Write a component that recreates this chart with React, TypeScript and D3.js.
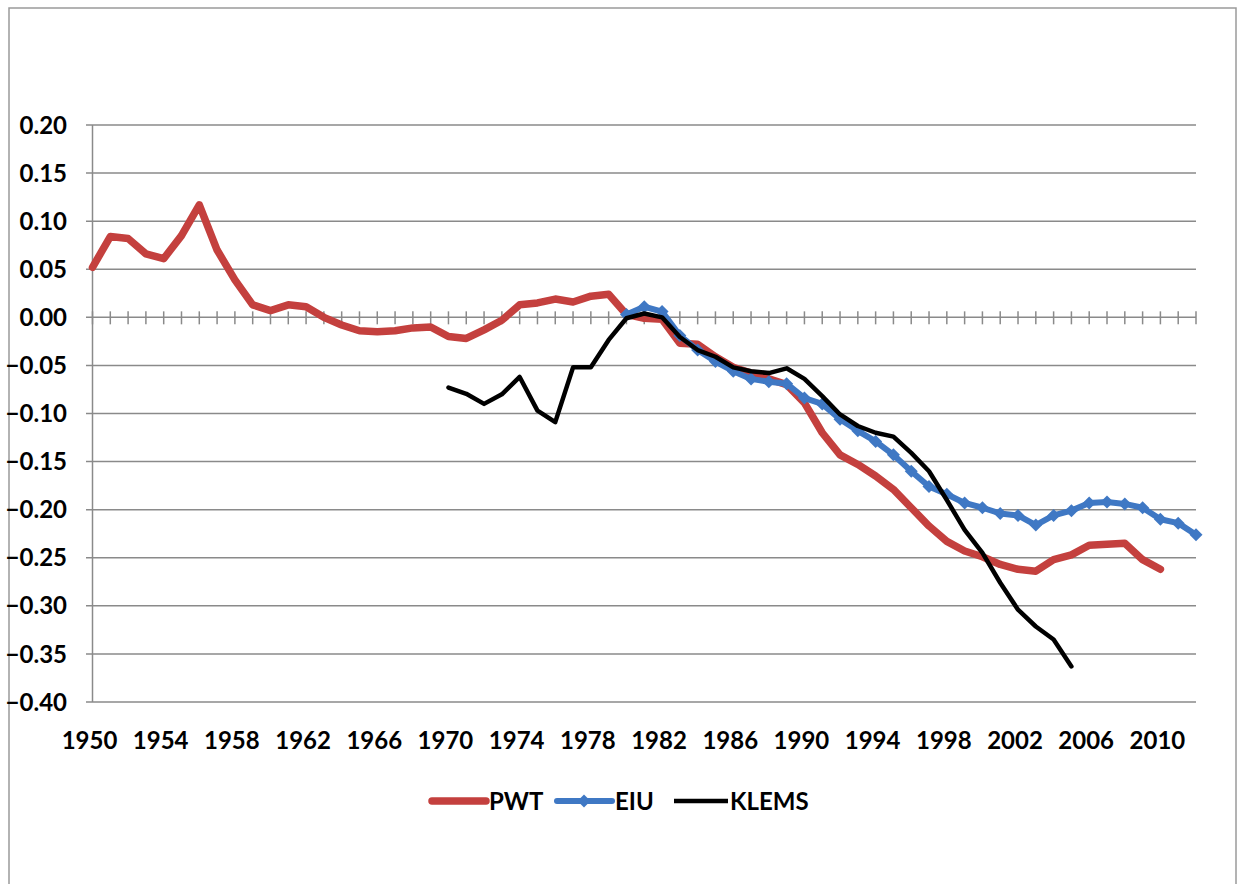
import React from "react";
import * as d3 from "d3";

const years: number[] = d3.range(1950, 2013);
const yTicks: number[] = [0.2, 0.15, 0.1, 0.05, 0, -0.05, -0.1, -0.15, -0.2, -0.25, -0.3, -0.35, -0.4];
const xLabelYears: number[] = d3.range(1950, 2011, 4);

const pwtStart = 1950;
const pwtValues: number[] = [
  0.052, 0.084, 0.082, 0.066, 0.061, 0.085, 0.117, 0.070, 0.039, 0.013,
  0.007, 0.013, 0.011, 0.000, -0.008, -0.014, -0.015, -0.014, -0.011, -0.010,
  -0.020, -0.022, -0.013, -0.003, 0.013, 0.015, 0.019, 0.016, 0.022, 0.024,
  0.003, -0.001, -0.002, -0.027, -0.028, -0.041, -0.052, -0.058, -0.064, -0.070,
  -0.089, -0.120, -0.143, -0.153, -0.165, -0.179, -0.198, -0.217, -0.233, -0.243,
  -0.249, -0.257, -0.262, -0.264, -0.252, -0.247, -0.237, -0.236, -0.235, -0.252,
  -0.262,
];

const eiuStart = 1980;
const eiuValues: number[] = [
  0.003, 0.011, 0.006, -0.019, -0.034, -0.046, -0.056, -0.064, -0.067, -0.069,
  -0.084, -0.090, -0.106, -0.118, -0.129, -0.143, -0.160, -0.176, -0.184, -0.193,
  -0.198, -0.204, -0.206, -0.216, -0.206, -0.201, -0.193, -0.192, -0.194, -0.198,
  -0.210, -0.214, -0.226,
];

const klemsStart = 1970;
const klemsValues: number[] = [
  -0.073, -0.0795, -0.090, -0.080, -0.062, -0.097, -0.109, -0.052, -0.052, -0.0235,
  -0.001, 0.004, 0.000, -0.0205, -0.034, -0.041, -0.052, -0.056, -0.058, -0.053,
  -0.064, -0.082, -0.101, -0.113, -0.120, -0.124, -0.141, -0.160, -0.190, -0.221,
  -0.245, -0.276, -0.304, -0.3215, -0.335, -0.363,
];

const RED = "#C4403E";
const BLUE = "#3F78C4";
const BLACK = "#000000";
const GRID = "#8a8a8a";
const FONT = "Lato, 'Liberation Sans', sans-serif";

type Pt = { year: number; value: number };
const toPts = (start: number, vals: number[]): Pt[] =>
  vals.map((v, i) => ({ year: start + i, value: v }));

export default function App() {
  const W = 1248;
  const H = 884;
  const x = d3.scalePoint<number>().domain(years).range([92.5, 1196]);
  const y = d3.scaleLinear().domain([-0.4, 0.2]).range([702, 125]);

  const line = d3
    .line<Pt>()
    .x((d) => x(d.year) as number)
    .y((d) => y(d.value));

  const pwt = toPts(pwtStart, pwtValues);
  const eiu = toPts(eiuStart, eiuValues);
  const klems = toPts(klemsStart, klemsValues);

  const diamond = (cx: number, cy: number, r: number) =>
    `M${cx},${cy - r}L${cx + r},${cy}L${cx},${cy + r}L${cx - r},${cy}Z`;

  const y0 = y(0);
  const legendY = 801;

  return (
    <svg
      width={W}
      height={H}
      style={{ position: "absolute", left: 0, top: 0, background: "#fff" }}
      fontFamily={FONT}
    >
      {/* outer frame */}
      <rect x={9} y={8} width={1227} height={900} fill="#fff" stroke="#9a9a9a" strokeWidth={1.5} />

      {/* gridlines */}
      {yTicks.map((t) => (
        <line
          key={"g" + t}
          x1={86}
          x2={1196}
          y1={y(t)}
          y2={y(t)}
          stroke={GRID}
          strokeWidth={1.5}
        />
      ))}

      {/* vertical axis */}
      <line x1={92.5} x2={92.5} y1={y(0.2)} y2={y(-0.4)} stroke={GRID} strokeWidth={1.5} />

      {/* category ticks on zero line */}
      {years.map((yr) => (
        <line
          key={"t" + yr}
          x1={x(yr) as number}
          x2={x(yr) as number}
          y1={y0 - 6}
          y2={y0 + 7}
          stroke={GRID}
          strokeWidth={1.5}
        />
      ))}

      {/* y labels */}
      {yTicks.map((t) => (
        <text
          key={"l" + t}
          x={67}
          y={y(t)}
          dy="0.36em"
          textAnchor="end"
          fontSize={24}
          fontWeight={700}
          fill="#000"
        >
          {d3.format(".2f")(t)}
        </text>
      ))}

      {/* x labels */}
      {xLabelYears.map((yr) => (
        <text
          key={"x" + yr}
          x={(x(yr) as number) - 3}
          y={749}
          textAnchor="middle"
          fontSize={24}
          fontWeight={700}
          fill="#000"
        >
          {yr}
        </text>
      ))}

      {/* series */}
      <path d={line(pwt) || ""} fill="none" stroke={RED} strokeWidth={7.5} strokeLinejoin="round" strokeLinecap="round" />
      <path d={line(eiu) || ""} fill="none" stroke={BLUE} strokeWidth={6} strokeLinejoin="round" />
      {eiu.map((d) => (
        <path key={"m" + d.year} d={diamond(x(d.year) as number, y(d.value), 6.5)} fill={BLUE} />
      ))}
      <path d={line(klems) || ""} fill="none" stroke={BLACK} strokeWidth={4.5} strokeLinejoin="round" strokeLinecap="round" />

      {/* legend */}
      <line x1={432} x2={486} y1={legendY} y2={legendY} stroke={RED} strokeWidth={7.5} strokeLinecap="round" />
      <text x={489} y={legendY} dy="0.36em" fontSize={24} fontWeight={700}>PWT</text>
      <line x1={557} x2={612} y1={legendY} y2={legendY} stroke={BLUE} strokeWidth={6} strokeLinecap="round" />
      <path d={diamond(584, legendY, 6.5)} fill={BLUE} />
      <text x={615} y={legendY} dy="0.36em" fontSize={24} fontWeight={700}>EIU</text>
      <line x1={674} x2={728} y1={legendY} y2={legendY} stroke={BLACK} strokeWidth={4.5} />
      <text x={730} y={legendY} dy="0.36em" fontSize={24} fontWeight={700}>KLEMS</text>
    </svg>
  );
}
